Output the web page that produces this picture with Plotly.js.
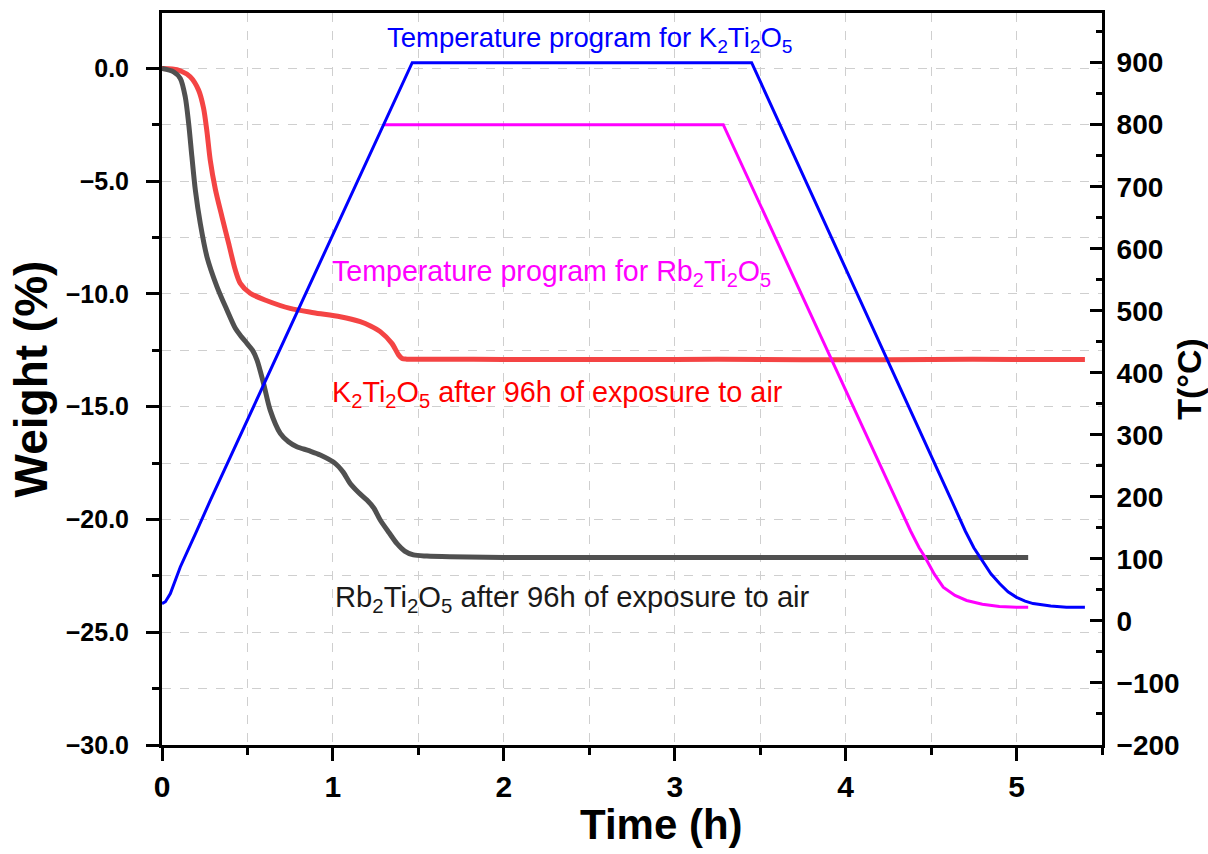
<!DOCTYPE html>
<html>
<head>
<meta charset="utf-8">
<script src="https://cdn.plot.ly/plotly-3.0.1.min.js"></script>
<style>html,body{margin:0;padding:0;background:#fff}#chart{width:1208px;height:854px}</style>
</head>
<body>
<div id="chart"></div>
<script>
// K2Ti2O5 weight loss (%)
const tK = [0, 0.06, 0.107, 0.165, 0.214, 0.243, 0.263, 0.282, 0.312, 0.351, 0.39, 0.429, 0.458, 0.516, 0.614, 0.75, 0.887, 1.043, 1.16, 1.22, 1.277, 1.345, 1.384, 1.405, 1.432, 1.6, 2.0, 2.5, 3.0, 3.5, 4.0, 4.5, 5.0, 5.4];
const wK = [0, -0.02, -0.1, -0.37, -0.96, -1.75, -2.8, -4.05, -5.35, -6.58, -7.76, -8.94, -9.53, -9.97, -10.3, -10.64, -10.83, -11.01, -11.23, -11.42, -11.67, -12.19, -12.7, -12.86, -12.89, -12.89, -12.9, -12.9, -12.9, -12.9, -12.92, -12.9, -12.9, -12.9];
// Rb2Ti2O5 weight loss (%)
const tRb = [0, 0.068, 0.107, 0.136, 0.156, 0.175, 0.195, 0.224, 0.263, 0.322, 0.38, 0.429, 0.46, 0.497, 0.53, 0.556, 0.594, 0.633, 0.692, 0.74, 0.789, 0.86, 0.926, 1.013, 1.06, 1.101, 1.15, 1.199, 1.24, 1.277, 1.33, 1.374, 1.42, 1.471, 1.55, 1.686, 2.0, 3.0, 4.0, 5.068];
const wRb = [0, -0.15, -0.44, -1.26, -2.44, -3.92, -5.39, -6.87, -8.35, -9.68, -10.71, -11.52, -11.85, -12.19, -12.5, -12.93, -13.96, -15.15, -16.18, -16.55, -16.77, -16.95, -17.14, -17.51, -17.9, -18.4, -18.8, -19.14, -19.5, -20.02, -20.6, -21.06, -21.4, -21.57, -21.62, -21.65, -21.68, -21.68, -21.68, -21.68];
// Temperature program for K2Ti2O5 (°C)
const tTK = [0, 0.02, 0.049, 0.08, 0.107, 0.2, 0.282, 1.464, 3.45, 4.62, 4.70, 4.75, 4.786, 4.82, 4.85, 4.902, 4.95, 5.0, 5.05, 5.097, 5.2, 5.292, 5.40];
const TK  = [28, 31, 44, 68, 87, 143, 194, 900, 900, 194, 145, 118, 103, 88, 76, 60, 47, 38, 32, 28, 24, 22, 22];
// Temperature program for Rb2Ti2O5 (°C)
const tTRb = [1.296, 3.284, 4.298, 4.38, 4.43, 4.464, 4.52, 4.571, 4.64, 4.708, 4.8, 4.90, 5.0, 5.068];
const TRb  = [800, 800, 194, 145, 118, 103, 75, 54.5, 41, 33, 27, 23.4, 22, 22];

const FONT = 'Liberation Sans, Arial, Helvetica, sans-serif';

const traces = [
  {x: tK, y: wK, type: 'scatter', mode: 'lines', line: {color: '#f44444', width: 5, shape: 'spline', smoothing: 0.8}, yaxis: 'y', hoverinfo: 'skip'},
  {x: tRb, y: wRb, type: 'scatter', mode: 'lines', line: {color: '#505050', width: 5, shape: 'spline', smoothing: 0.8}, yaxis: 'y', hoverinfo: 'skip'},
  {x: tTRb, y: TRb, type: 'scatter', mode: 'lines', line: {color: '#ff00ff', width: 3, shape: 'linear'}, yaxis: 'y2', hoverinfo: 'skip'},
  {x: tTK, y: TK, type: 'scatter', mode: 'lines', line: {color: '#0000ff', width: 3, shape: 'linear'}, yaxis: 'y2', hoverinfo: 'skip'}
];

const gridStyle = {gridcolor: '#cfcfcf', gridwidth: 1, griddash: 'dash'};

const layout = {
  width: 1208, height: 854,
  margin: {l: 162, r: 106, t: 13, b: 109},
  paper_bgcolor: '#ffffff', plot_bgcolor: '#ffffff',
  showlegend: false,
  font: {family: FONT, color: '#000'},
  xaxis: Object.assign({
    range: [0, 5.5], dtick: 1, tick0: 0,
    showline: true, linecolor: '#000', linewidth: 3, mirror: true,
    ticks: 'outside', ticklen: 13, tickwidth: 3, tickcolor: '#000',
    showgrid: true, zeroline: false,
    minor: {dtick: 0.5, ticks: 'outside', ticklen: 7, tickwidth: 3, tickcolor: '#000', showgrid: true, gridcolor: '#cfcfcf', gridwidth: 1, griddash: 'dash'},
    tickfont: {family: FONT, size: 30, color: '#000', weight: 'bold'},
    ticklabelstandoff: 0
  }, gridStyle),
  yaxis: Object.assign({
    range: [-30, 2.46], dtick: 5, tick0: 0, tickformat: '.1f',
    showline: true, linecolor: '#000', linewidth: 3, mirror: false,
    ticks: 'outside', ticklen: 13, tickwidth: 3, tickcolor: '#000',
    showgrid: true, zeroline: false,
    minor: {dtick: 2.5, ticks: 'outside', ticklen: 7, tickwidth: 3, tickcolor: '#000', showgrid: true, gridcolor: '#cfcfcf', gridwidth: 1, griddash: 'dash'},
    tickfont: {family: FONT, size: 25, color: '#000', weight: 'bold'},
    ticklabelstandoff: 12,
    title: {text: '<b>Weight (%)</b>', font: {family: FONT, size: 46, color: '#000'}, standoff: 4}
  }, gridStyle),
  yaxis2: {
    overlaying: 'y', side: 'right',
    range: [-200, 980], dtick: 100, tick0: 0,
    showline: true, linecolor: '#000', linewidth: 3,
    ticks: 'inside', ticklen: 12, tickwidth: 3, tickcolor: '#000',
    showgrid: false, zeroline: false,
    minor: {dtick: 50, ticks: 'inside', ticklen: 6, tickwidth: 3, tickcolor: '#000', showgrid: false},
    tickfont: {family: FONT, size: 28, color: '#000', weight: 'bold'},
    ticklabelstandoff: 6,
    title: {text: '<b>T(°C)</b>', font: {family: FONT, size: 34, color: '#000'}, standoff: 6}
  },
  annotations: [
    {text: '<b>Time (h)</b>', xref: 'paper', yref: 'paper', x: (661 - 162) / 940, y: -(825 - 745) / 732, xanchor: 'center', yanchor: 'middle', showarrow: false, font: {family: FONT, size: 42, color: '#000'}},
    {text: 'Temperature program for K<sub>2</sub>Ti<sub>2</sub>O<sub>5</sub>', xref: 'x', yref: 'y2', x: 1.306, y: 938, xanchor: 'left', yanchor: 'middle', showarrow: false, font: {family: FONT, size: 27.5, color: '#0000ff'}},
    {text: 'Temperature program for Rb<sub>2</sub>Ti<sub>2</sub>O<sub>5</sub>', xref: 'x', yref: 'y2', x: 0.985, y: 561, xanchor: 'left', yanchor: 'middle', showarrow: false, font: {family: FONT, size: 28.6, color: '#ff00ff'}},
    {text: 'K<sub>2</sub>Ti<sub>2</sub>O<sub>5</sub> after 96h of exposure to air', xref: 'x', yref: 'y2', x: 0.985, y: 366, xanchor: 'left', yanchor: 'middle', showarrow: false, font: {family: FONT, size: 28.8, color: '#ff0000'}},
    {text: 'Rb<sub>2</sub>Ti<sub>2</sub>O<sub>5</sub> after 96h of exposure to air', xref: 'x', yref: 'y2', x: 1.0, y: 36, xanchor: 'left', yanchor: 'middle', showarrow: false, font: {family: FONT, size: 29.2, color: '#1a1a1a'}}
  ]
};

Plotly.newPlot('chart', traces, layout, {staticPlot: true, displayModeBar: false});
</script>
</body>
</html>
